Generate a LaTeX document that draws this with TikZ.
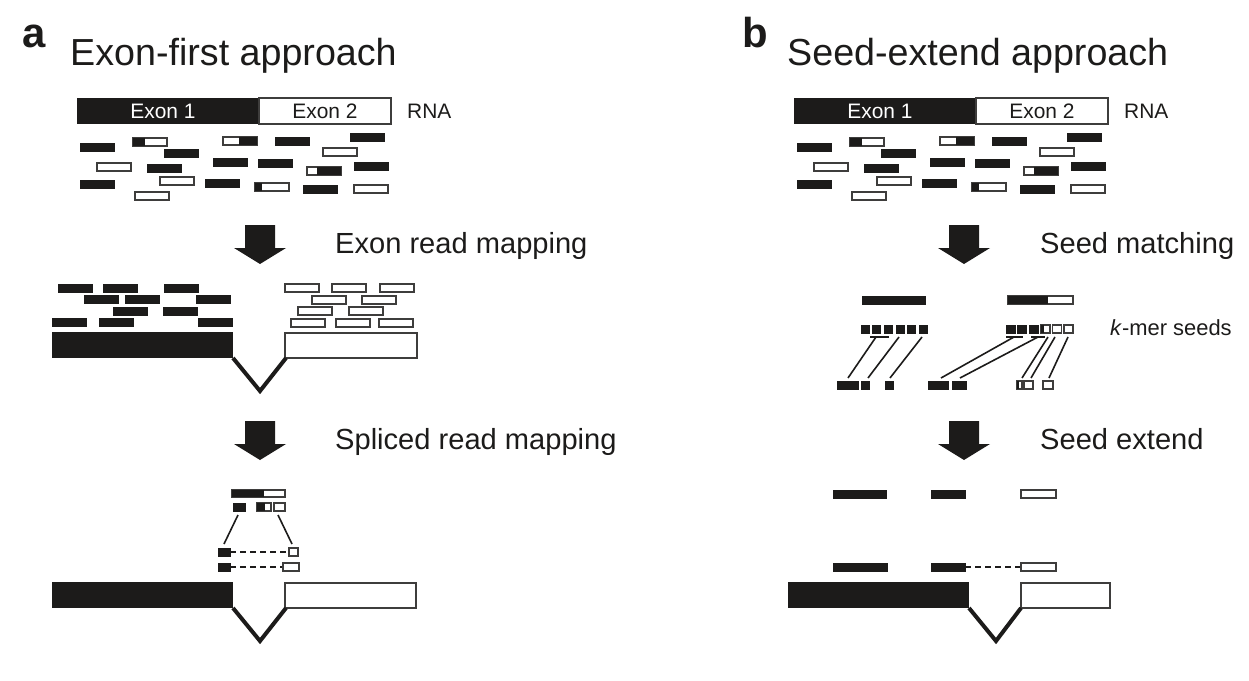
\documentclass[tikz,border=0pt]{standalone}
\usepackage{fontspec}
\setmainfont{Liberation Sans}
\definecolor{ink}{HTML}{1C1B1A}

\begin{document}
\begin{tikzpicture}[
        x=1bp, y=-1bp,
        every node/.style={text=ink, inner sep=0pt},
        blk/.style={fill=ink, draw=ink, line width=0.6bp},
        wht/.style={fill=white, draw=ink!85, line width=1.3bp},
        link/.style={draw=ink, line width=1.6bp},
        gap/.style={draw=ink, line width=1.5bp, dash pattern=on 6bp off 4bp},
        vee/.style={draw=ink, line width=4bp, line join=miter},
        panel/.style={font=\fontsize{42}{46}\selectfont\bfseries, anchor=base west},
        title/.style={font=\fontsize{37.8}{42}\selectfont, anchor=base west},
        steplabel/.style={font=\fontsize{29.2}{33}\selectfont, anchor=base west},
        small/.style={font=\fontsize{21}{24}\selectfont},
        bigarrow/.pic={\fill[ink] (-15,-20) -- (15,-20) -- (15,3) -- (26,3) -- (0,19) -- (-26,3) -- (-15,3) -- cycle;}
    ]
    \useasboundingbox (0,0) rectangle (1249,681);

    \node[panel] (lbla) at (22,48) {a};
    \node[title] (ttla) at (70,66) {Exon-first approach};
    \node[panel] (lblb) at (742,48) {b};
    \node[title] (ttlb) at (787,66) {Seed-extend approach};

    % RNA and reads, same in both panels
    \foreach \dx in {0,717} {
        \begin{scope}[xshift=\dx bp]
            \fill[ink] (77,98) rectangle (259,124);
            \draw[wht, line width=1.5bp] (259,98) rectangle (391,124);
            \node[small, text=white] (exonA\dx) at (163,111) {Exon 1};
            \node[small] (exonB\dx) at (325,111) {Exon 2};
            \node[small, anchor=west] (rna\dx) at (407,111) {RNA};
            \foreach \x/\y in {80/143,164/149,147/164,80/180,275/137,350/133,213/158,258/159,354/162,205/179,303/185}
                \draw[blk] (\x,\y) rectangle ++(34,8);
            \foreach \x/\y in {97/163,160/177,135/192,323/148,354/185}
                \draw[wht] (\x,\y) rectangle ++(34,8);
            \foreach \x/\y/\a/\b in {133/138/0/12,223/137/16/34,307/167/10/34,255/183/0/7} {
                \draw[wht] (\x,\y) rectangle ++(34,8);
                \fill[ink] (\x+\a,\y) rectangle (\x+\b,\y+8);
            }
        \end{scope}
    }

    \pic at (260,245) {bigarrow};
    \pic at (260,441) {bigarrow};
    \pic at (964,245) {bigarrow};
    \pic at (964,441) {bigarrow};
    \node[steplabel] (stepa1) at (335,253) {Exon read mapping};
    \node[steplabel] (stepa2) at (335,449) {Spliced read mapping};
    \node[steplabel] (stepb1) at (1040,253) {Seed matching};
    \node[steplabel] (stepb2) at (1040,449) {Seed extend};

    % exon read mapping
    \foreach \x/\y in {58/284,103/284,164/284,84/295,125/295,196/295,113/307,163/307,52/318,99/318,198/318}
        \draw[blk] (\x,\y) rectangle ++(34,8);
    \foreach \x/\y in {285/284,332/284,380/284,312/296,362/296,298/307,349/307,291/319,336/319,379/319}
        \draw[wht] (\x,\y) rectangle ++(34,8);
    \fill[ink] (52,332) rectangle (233,358);
    \draw[wht, line width=1.6bp] (285,333) rectangle (417,358);
    \draw[vee] (233,358) -- (260,391) -- (286,358);

    % spliced read mapping
    \draw[wht] (232,490) rectangle (285,497);
    \fill[ink] (232,490) rectangle (264,497);
    \draw[blk] (233,503) rectangle (245,511);
    \draw[wht] (257,503) rectangle (271,511);
    \fill[ink] (257,503) rectangle (265,511);
    \draw[wht] (274,503) rectangle (285,511);
    \coordinate (sa1) at (238,515);
    \coordinate (sa2) at (224,544);
    \coordinate (sb1) at (278,515);
    \coordinate (sb2) at (292,544);
    \draw[link] (sa1) -- (sa2);
    \draw[link] (sb1) -- (sb2);
    \draw[gap] (230,552) -- (289,552);
    \draw[gap] (230,567) -- (283,567);
    \draw[blk] (218,548) rectangle (230,556);
    \draw[wht] (289,548) rectangle (298,556);
    \draw[blk] (218,563) rectangle (230,571);
    \draw[wht] (283,563) rectangle (299,571);
    \fill[ink] (52,582) rectangle (233,608);
    \draw[wht, line width=1.6bp] (285,583) rectangle (416,608);
    \draw[vee] (233,608) -- (260,641) -- (286,608);

    % seed matching
    \draw[blk] (862,296) rectangle (925,304);
    \draw[wht] (1008,296) rectangle (1073,304);
    \fill[ink] (1008,296) rectangle (1048,304);
    \node[font=\fontsize{22}{25}\selectfont, anchor=base west] (kmer) at (1110,335) {\textit{k}-mer seeds};
    \foreach \i in {0,...,5}
        \draw[blk] (861+11.6*\i,325) rectangle ++(8,8);
    \foreach \i in {0,1,2}
        \draw[blk] (1006+11.6*\i,325) rectangle ++(9,8);
    \draw[wht] (1041,325) rectangle ++(9,8);
    \fill[ink] (1041,325) rectangle (1044,333);
    \foreach \i in {4,5}
        \draw[wht] (1006+11.6*\i,325) rectangle ++(9,8);
    \draw[link] (870,337) -- (889,337);
    \draw[link] (1006,337) -- (1023,337);
    \draw[link] (1031,337) -- (1045,337);
    \foreach \xa/\xb in {876/848,899/868,922/890,1014/941,1038/960,1048/1022,1055/1031,1068/1049}
        \draw[link] (\xa,337) -- (\xb,378);
    \foreach \xa/\xb in {837/858,861/869,885/893,928/948,952/966}
        \draw[blk] (\xa,381) rectangle (\xb,389);
    \draw[wht] (1017,381) rectangle (1022,389);
    \fill[ink] (1017,381) rectangle (1019,389);
    \draw[wht] (1024,381) rectangle (1033,389);
    \draw[wht] (1043,381) rectangle (1053,389);

    % seed extend
    \draw[blk] (833,490) rectangle (886,498);
    \draw[blk] (931,490) rectangle (965,498);
    \draw[wht] (1021,490) rectangle (1056,498);
    \draw[gap] (965,567) -- (1021,567);
    \draw[blk] (833,563) rectangle (887,571);
    \draw[blk] (931,563) rectangle (965,571);
    \draw[wht] (1021,563) rectangle (1056,571);
    \fill[ink] (788,582) rectangle (969,608);
    \draw[wht, line width=1.6bp] (1021,583) rectangle (1110,608);
    \draw[vee] (969,608) -- (996,641) -- (1021,608);
\end{tikzpicture}
\end{document}
